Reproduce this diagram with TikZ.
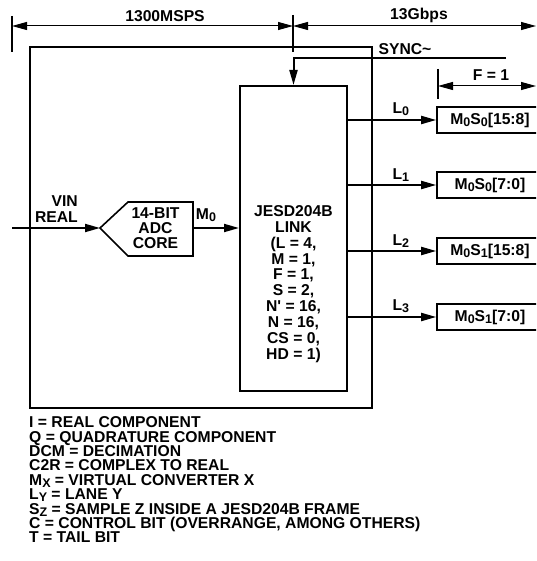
\documentclass[tikz,border=0pt]{standalone}
\usepackage{fontspec}
\setmainfont{Liberation Sans}
\usetikzlibrary{arrows.meta}
\newcommand{\lsub}[1]{\raisebox{-2pt}{\fontsize{12.5}{12.5}\selectfont #1}}
\newcommand{\figfont}{\fontsize{15.7}{15.9}\selectfont\bfseries}
\newcommand{\legendfont}{\fontsize{15.7}{14.4}\selectfont\bfseries\lineskiplimit=-20pt}
\tikzset{>={Triangle[length=15pt,width=8pt]},
  dimline/.style={line width=1pt,<->},
  dimtick/.style={line width=1.2pt},
  sigline/.style={line width=2pt,->},
  blockbox/.style={draw,line width=2pt,inner sep=0pt},
  lanebox/.style={draw,line width=1.6pt,minimum width=106pt,minimum height=26pt,inner sep=0pt}}

\begin{document}
\begin{tikzpicture}[x=1pt,y=-1pt,font=\figfont,inner sep=0pt]
  \useasboundingbox (0,0) rectangle (536,561);
  \clip (0,0) rectangle (536,561);
  % rate dimensions
  \draw[dimtick] (12,16) -- (12,52);
  \draw[dimtick] (293,15) -- (293,52);
  \coordinate (dimL) at (12,26);
  \coordinate (dimM) at (293,26);
  \coordinate (dimR) at (536,26);
  \draw[dimline] (dimL) -- (dimM);
  \draw[dimline] (dimM) -- (dimR);
  \node (adcrate) at (165,16) {1300MSPS};
  \node (lanerate) at (419,15) {13Gbps};
  % device outline and link block
  \node[blockbox,minimum width=342pt,minimum height=361pt] (outer) at (201,227.5) {};
  \node[blockbox,minimum width=107pt,minimum height=305pt] (jesd) at (293.5,238.5) {};
  \node[align=center] (jesdtxt) at (293.5,284)
    {JESD204B\\LINK\\(L = 4,\\M = 1,\\F = 1,\\S = 2,\\N\textquotesingle{} = 16,\\N = 16,\\CS = 0,\\HD = 1)};
  % sync
  \coordinate (sync) at (506,58);
  \draw[sigline] (sync) -| (jesd.north);
  \node (synclbl) at (405,49) {SYNC\textasciitilde};
  % converter core
  \coordinate (adctip) at (100,228);
  \coordinate (adcout) at (193,228);
  \draw[line width=1.6pt] (adctip) -- (128,202) -- (193,202) -- (193,256) -- (128,256) -- cycle;
  \node[align=center,font=\fontsize{15.7}{15}\selectfont\bfseries] (adc) at (155.5,228) {14-BIT\\ADC\\CORE};
  \coordinate (vin) at (12,228);
  \draw[sigline] (vin) -- (adctip);
  \node[align=right,anchor=east] (vinlbl) at (78,209) {VIN\\REAL};
  \draw[sigline] (adcout) -- (adcout -| jesd.west);
  \node (m0lbl) at (206,215) {M\lsub{0}};
  % lanes
  \draw[dimtick] (438,69) -- (438,99);
  \coordinate (frmL) at (438,86);
  \coordinate (frmR) at (536,86);
  \draw[dimline] (frmL) -- (frmR);
  \node (frmlbl) at (491,75) {F = 1};
  \foreach \i/\y/\txt in {0/120/{M\lsub{0}S\lsub{0}[15:8]},1/185/{M\lsub{0}S\lsub{0}[7:0]},
                          2/251/{M\lsub{0}S\lsub{1}[15:8]},3/317/{M\lsub{0}S\lsub{1}[7:0]}}{
    \node[lanebox] (ln\i) at (490,\y) {\txt};
    \draw[sigline] (ln\i.west -| jesd.east) -- (ln\i.west) node[pos=0.6,above=3pt] {L\lsub{\i}};
  }
  % legend
  \node[anchor=north west,align=left,font=\legendfont] (legend) at (29,416.5)
    {I = REAL COMPONENT\\Q = QUADRATURE COMPONENT\\DCM = DECIMATION\\C2R = COMPLEX TO REAL\\
     M\lsub{X} = VIRTUAL CONVERTER X\\L\lsub{Y} = LANE Y\\S\lsub{Z} = SAMPLE Z INSIDE A JESD204B FRAME\\
     C = CONTROL BIT (OVERRANGE, AMONG OTHERS)\\T = TAIL BIT};
\end{tikzpicture}
\end{document}
